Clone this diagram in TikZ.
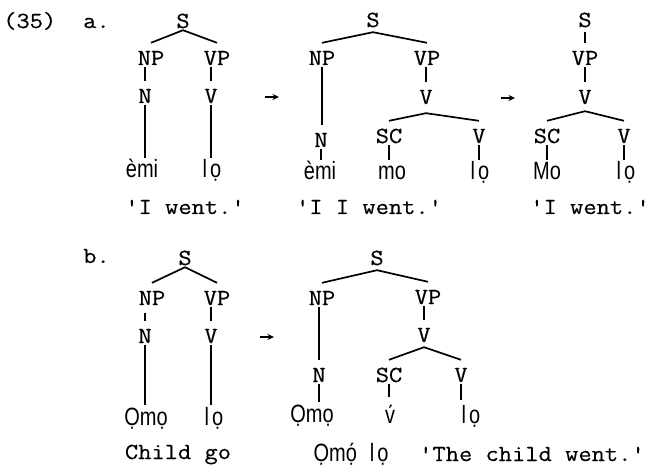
\documentclass[tikz,border=0pt]{standalone}
\usepackage{fontspec}
\newfontfamily\tw[FakeStretch=1.12,FakeBold=0.4]{Latin Modern Mono}
\newfontfamily\yor[FakeStretch=0.8]{Liberation Sans}
\usetikzlibrary{arrows.meta,calc}

% Yoruba "lo" with the wide typewriter spacing between its letters
\newcommand{\ylo}{l\kern3pt ọ}

\tikzset{
  cat/.style={font=\tw\fontsize{23}{27}\selectfont, inner xsep=0pt, inner ysep=2pt,
              text height=20pt, text depth=0pt, anchor=base},
  word/.style={font=\yor\fontsize{25}{29}\selectfont, inner xsep=0pt, inner ysep=2pt,
              text height=18pt, text depth=0pt, anchor=base},
  gloss/.style={font=\tw\fontsize{23}{27}\selectfont, inner sep=0pt, anchor=base},
  branch/.style={line width=1.7pt},
  derives/.style={line width=1.1pt, -{Stealth[length=6.5pt,width=6pt]}}
}

\begin{document}
\begin{tikzpicture}[x=1pt,y=-1pt]
\useasboundingbox (0,0) rectangle (650,470);

% example number and sub-labels
\node[gloss, anchor=base west] (num) at (3,28) {(35)};
\node[gloss, anchor=base west] (la) at (83,28) {a.};
\node[gloss, anchor=base west] (lb) at (83,263) {b.};

% ---------- (a) first tree ----------
\node[cat] (S1)  at (183,28)  {S};
\node[cat] (NP1) at (151,65)  {NP};
\node[cat] (VP1) at (217,65)  {VP};
\node[cat] (N1)  at (145,103) {N};
\node[cat] (V1)  at (211,103) {V};
\node[word] (emi1) at (142,178) {èmi};
\node[word] (lo1)  at (212,178) {\ylo};
\node[gloss] (g1) at (185,214) {'I went.'};

\draw[branch] (S1.south) -- (NP1.north);
\draw[branch] (S1.south) -- (VP1.north);
\draw[branch] (NP1.south -| N1.north) -- (N1.north);
\draw[branch] (N1.south) -- (N1.south |- emi1.north);
\draw[branch] (VP1.south -| V1.north) -- (V1.north);
\draw[branch] (V1.south) -- (V1.south |- lo1.north);

\coordinate (ar1a) at (265,97);
\coordinate (ar1b) at (279,97);
\draw[derives] (ar1a) -- (ar1b);

% ---------- (a) second tree ----------
\node[cat] (S2)  at (373,27)  {S};
\node[cat] (NP2) at (322,65)  {NP};
\node[cat] (VP2) at (427,65)  {VP};
\node[cat] (N2)  at (321,147) {N};
\node[cat] (V2)  at (426,104) {V};
\node[cat] (SC2) at (389,143) {SC};
\node[cat] (V2b) at (479,143) {V};
\node[word] (emi2) at (320,180) {èmi};
\node[word] (mo2)  at (392,180) {mo};
\node[word] (lo2)  at (480,180) {\ylo};
\node[gloss] (g2) at (369,214) {'I I went.'};

\draw[branch] ([yshift=-3pt]S2.south) -- (NP2.north);
\draw[branch] ([yshift=-3pt]S2.south) -- (VP2.north);
\draw[branch] (NP2.south) -- (NP2.south |- N2.north);
\draw[branch] (N2.south) -- (N2.south |- emi2.north);
\draw[branch] (VP2.south -| V2.north) -- (V2.north);
\draw[branch] ([yshift=-7pt]V2.south) -- (SC2.north);
\draw[branch] ([yshift=-7pt]V2.south) -- (V2b.north);
\draw[branch] (SC2.south) -- (SC2.south |- mo2.north);
\draw[branch] (V2b.south) -- (V2b.south |- lo2.north);

\coordinate (ar2a) at (501,98);
\coordinate (ar2b) at (515,98);
\draw[derives] (ar2a) -- (ar2b);

% ---------- (a) third tree ----------
\node[cat] (S3)  at (585,27)  {S};
\node[cat] (VP3) at (585,65)  {VP};
\node[cat] (V3)  at (585,104) {V};
\node[cat] (SC3) at (547,143) {SC};
\node[cat] (V3b) at (624,143) {V};
\node[word] (Mo3) at (547,180) {Mo};
\node[word] (lo3) at (626,180) {\ylo};
\node[gloss] (g3) at (590,214) {'I went.'};

\draw[branch] ([yshift=-3pt]S3.south) -- (VP3.north);
\draw[branch] (VP3.south) -- (V3.north);
\draw[branch] ([yshift=-5pt]V3.south) -- (SC3.north);
\draw[branch] ([yshift=-5pt]V3.south) -- (V3b.north);
\draw[branch] (SC3.south) -- (SC3.south |- Mo3.north);
\draw[branch] (V3b.south) -- (V3b.south |- lo3.north);

% ---------- (b) first tree ----------
\node[cat] (S4)  at (185,265) {S};
\node[cat] (NP4) at (152,305) {NP};
\node[cat] (VP4) at (217,305) {VP};
\node[cat] (N4)  at (145,343) {N};
\node[cat] (V4)  at (211,343) {V};
\node[word] (Qmo4) at (146,425) {Ọmọ};
\node[word] (lo4)  at (214,425) {\ylo};
\node[gloss] (g4) at (178,459) {Child go};

\draw[branch] (S4.south) -- (NP4.north);
\draw[branch] (S4.south) -- (VP4.north);
\draw[branch, shorten <=6pt] (NP4.south -| N4.north) -- (N4.north);
\draw[branch] (N4.south) -- (N4.south |- Qmo4.north);
\draw[branch] (VP4.south -| V4.north) -- (V4.north);
\draw[branch] (V4.south) -- (V4.south |- lo4.north);

\coordinate (ar3a) at (260,337);
\coordinate (ar3b) at (274,337);
\draw[derives] (ar3a) -- (ar3b);

% ---------- (b) second tree ----------
\node[cat] (S5)  at (377,265) {S};
\node[cat] (NP5) at (322,305) {NP};
\node[cat] (VP5) at (428,304) {VP};
\node[cat] (N5)  at (319,382) {N};
\node[cat] (V5)  at (424,342) {V};
\node[cat] (SC5) at (389,382) {SC};
\node[cat] (V5b) at (461,382) {V};
\node[word] (Qmo5) at (312,422) {Ọmọ};
\node[word] (hv5)  at (390,423) {v́};
\node[word] (lo5)  at (471,423) {\ylo};
\node[word] (yor5) at (351,461) {Ọmọ́\hspace{13pt}\ylo};
\node[gloss, anchor=base west] (g5) at (419,461) {'The child went.'};

\draw[branch] ([yshift=-3pt]S5.south) -- (NP5.north);
\draw[branch] ([yshift=-3pt]S5.south) -- (VP5.north);
\draw[branch] (NP5.south -| N5.north) -- (N5.north);
\draw[branch] (N5.south) -- (N5.south |- Qmo5.north);
\draw[branch] (VP5.south -| V5.north) -- (V5.north);
\draw[branch] ([yshift=-3pt]V5.south) -- (SC5.north);
\draw[branch] ([yshift=-3pt]V5.south) -- (V5b.north);
\draw[branch, shorten >=6pt] (SC5.south) -- (SC5.south |- hv5.north);
\draw[branch, shorten >=3pt] (V5b.south) -- (V5b.south |- lo5.north);

\end{tikzpicture}
\end{document}
